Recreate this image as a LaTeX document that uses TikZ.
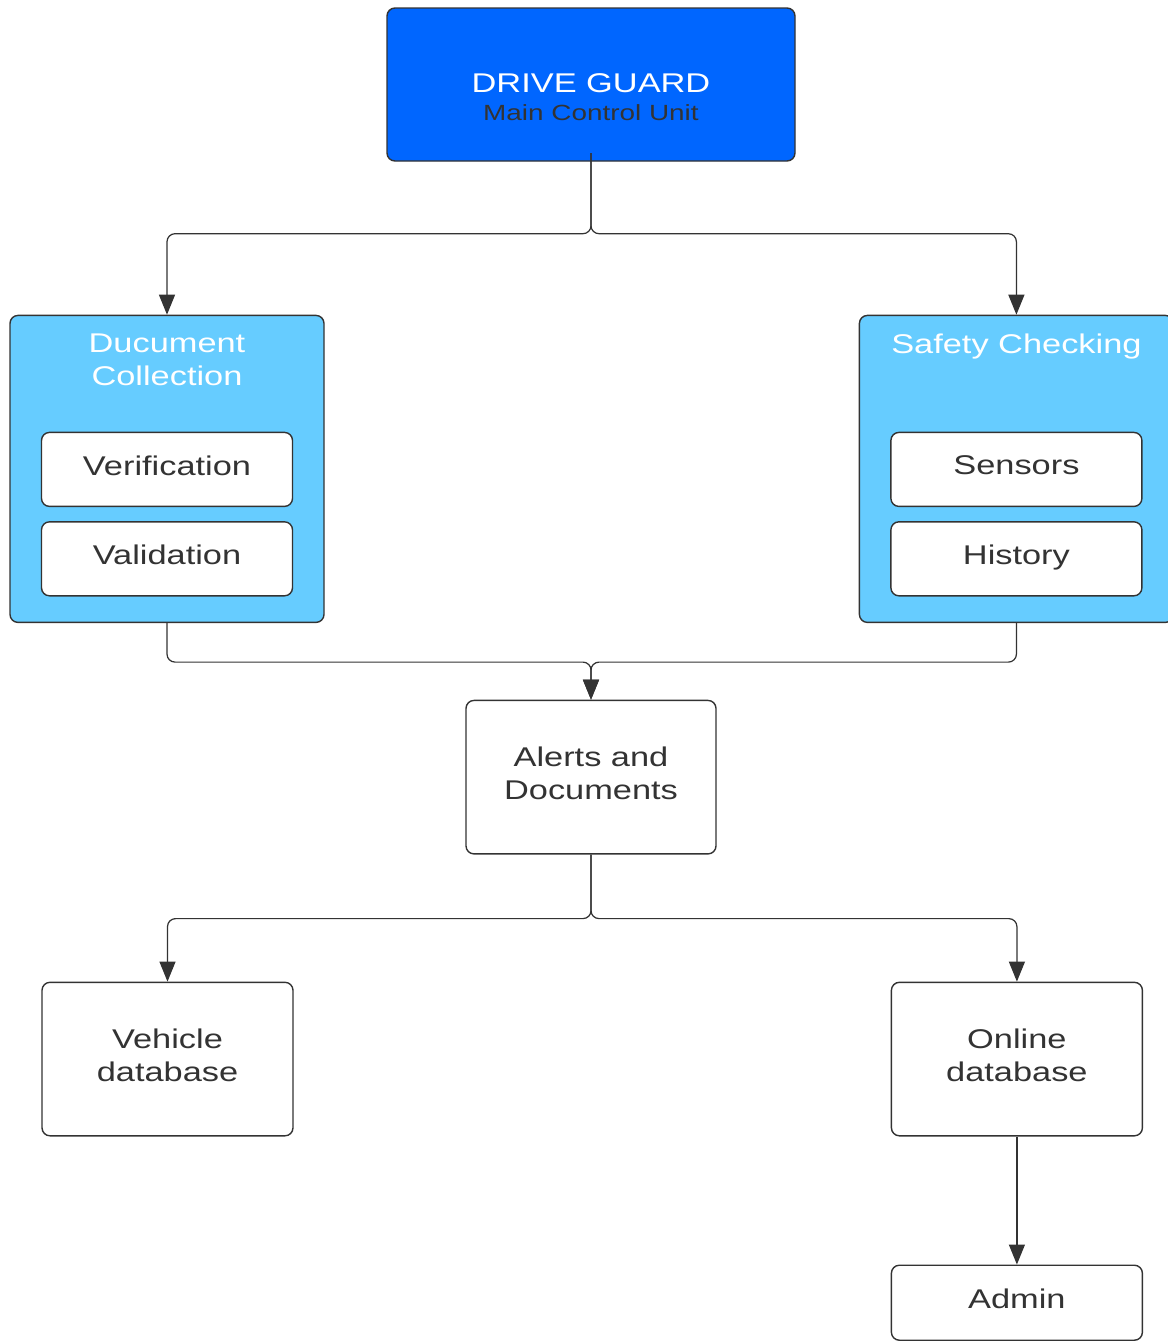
\documentclass[tikz,border=0pt]{standalone}
\usepackage{fontspec}
\setmainfont{Liberation Sans}[FakeStretch=1.27]
\usetikzlibrary{arrows.meta, positioning}

\definecolor{guardblue}{HTML}{0066FF}
\definecolor{panelblue}{HTML}{66CCFF}
\definecolor{inkgray}{HTML}{333333}

\tikzset{
    box/.style={draw=inkgray, line width=0.8pt, rounded corners=0.16cm, fill=white,
        text=inkgray, align=center, inner sep=0pt, text depth=0.16cm,
        font=\fontsize{15.4pt}{18.8pt}\selectfont},
    smallbox/.style={box, minimum width=5.02cm, minimum height=1.48cm},
    bigbox/.style={box, minimum width=5.02cm, minimum height=3.07cm},
    panel/.style={box, fill=panelblue, minimum width=6.28cm, minimum height=6.14cm},
    title/.style={text=white, align=center, inner sep=0pt,
        font=\fontsize{15.4pt}{18.8pt}\selectfont},
    flow/.style={draw=inkgray, line width=0.7pt, rounded corners=0.16cm,
        -{Triangle[length=0.4cm, width=0.32cm]}},
}

\begin{document}
\begin{tikzpicture}
    \useasboundingbox (0,0) rectangle (23.34,-26.86);

    \node[box, fill=guardblue, minimum width=8.16cm, minimum height=3.06cm] (Guard) at (11.82,-1.69) {};
    \node[title, anchor=base]                        (Guard Name)   at ([yshift=-0.15cm]Guard.center) {DRIVE GUARD};
    \node[title, anchor=base, text=inkgray, font=\fontsize{12.5pt}{15pt}\selectfont]
                                                     (Guard Role)   at ([yshift=-0.71cm]Guard.center) {Main Control Unit};

    \node[panel, below=3.06cm of Guard, xshift=-8.48cm] (Doc)        {};
    \node[panel, right=10.68cm of Doc]                  (Safety)     {};
    \node[title, below=0.37cm of Doc.north]             (Doc Title)    {Ducument\\Collection};
    \node[title, below=0.37cm of Safety.north]          (Safety Title) {Safety Checking};

    \node[smallbox, below=2.34cm of Doc.north]          (Verif)      {Verification};
    \node[smallbox, below=0.28cm of Verif]              (Valid)      {Validation};
    \node[smallbox, below=2.34cm of Safety.north]       (Sensors)    {Sensors};
    \node[smallbox, below=0.28cm of Sensors]            (History)    {History};

    \node[bigbox, minimum width=5cm, below=10.76cm of Guard] (Alerts)  {Alerts and\\Documents};
    \node[bigbox, below=2.54cm of Alerts, xshift=-8.47cm]    (Vehicle) {Vehicle\\database};
    \node[bigbox, right=11.94cm of Vehicle]                  (Online)  {Online\\database};
    \node[smallbox, minimum height=1.5cm, below=2.56cm of Online] (Admin) {Admin};

    \draw[flow] ([yshift=0.17cm]Guard.south) -- ++(0,-1.61) -| (Doc.north);
    \draw[flow] ([yshift=0.17cm]Guard.south) -- ++(0,-1.61) -| (Safety.north);
    \draw[flow] (Doc.south) -- ++(0,-0.78) -| (Alerts.north);
    \draw[flow] (Safety.south) -- ++(0,-0.78) -| (Alerts.north);
    \draw[flow] (Alerts.south) -- ++(0,-1.28) -| (Vehicle.north);
    \draw[flow] (Alerts.south) -- ++(0,-1.28) -| (Online.north);
    \draw[flow] (Online.south) -- (Admin.north);
\end{tikzpicture}
\end{document}
